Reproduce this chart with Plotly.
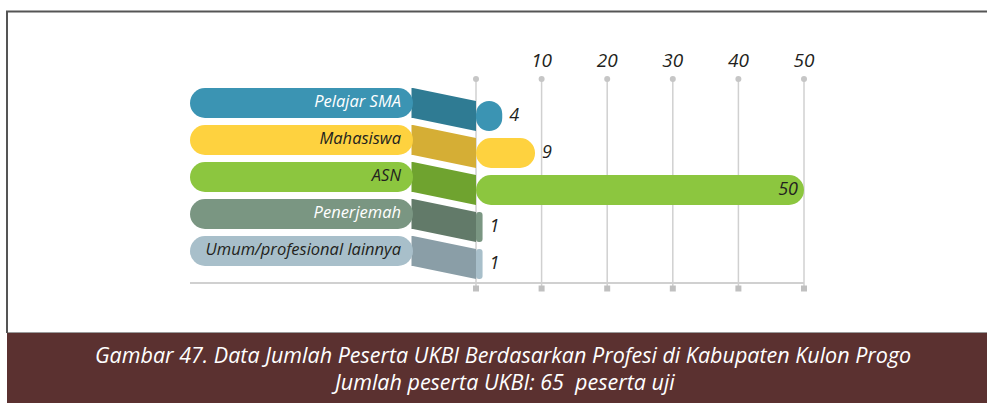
import plotly.graph_objects as go

# ---- data -----------------------------------------------------------------
categories = ["Pelajar SMA", "Mahasiswa", "ASN", "Penerjemah", "Umum/profesional lainnya"]
values = [4, 9, 50, 1, 1]
tick_values = [10, 20, 30, 40, 50]
tick_labels = ["10", "20", "30", "40", "50"]
caption_lines = [
    "Gambar 47. Data Jumlah Peserta UKBI Berdasarkan Profesi di Kabupaten Kulon Progo",
    "Jumlah peserta UKBI: 65  peserta uji",
]

# ---- styling --------------------------------------------------------------
bar_colors = ["#3b94b3", "#fed23f", "#8cc63f", "#7a9682", "#a8bfca"]
shade_colors = ["#2f7b93", "#d5ae35", "#6fa32f", "#627a69", "#8a9ea7"]
label_colors = ["#ffffff", "#231f20", "#231f20", "#ffffff", "#231f20"]
text_color = "#231f20"
grid_color = "#d0d0d0"
band_color = "#5b3130"
FONT = "Open Sans"

W, H = 987, 403
X0_PX = 476.0      # pixel column of value 0
PX_PER_UNIT = 6.56  # pixels per participant
ROW0_PX = 116.0    # pixel row of the first value bar centre
ROW_PX = 37.0      # pixel spacing between rows


def px_x(p):
    return (p - X0_PX) / PX_PER_UNIT


def px_y(p):
    return (p - ROW0_PX) / ROW_PX


bar_h = 30 / ROW_PX          # bar thickness in row units
lift = 13 / ROW_PX           # label pill sits higher than the value bar
pill_base = px_x(413)        # where the label pill meets the slanted joint
pill_left = px_x(190)        # rounded left end of the label pill
rows = list(range(len(categories)))
grid_values = [0] + tick_values

fig = go.Figure()

# label pills (rounded at the left end)
fig.add_trace(go.Bar(
    y=[r - lift for r in rows],
    x=[pill_left - pill_base] * len(rows),
    base=[pill_base] * len(rows),
    orientation="h",
    width=bar_h,
    marker=dict(color=bar_colors, cornerradius=15, line=dict(width=0)),
    hoverinfo="skip",
))

# value bars (rounded at the right end)
fig.add_trace(go.Bar(
    y=rows,
    x=values,
    base=[0] * len(rows),
    orientation="h",
    width=bar_h,
    marker=dict(color=bar_colors, cornerradius=15, line=dict(width=0)),
    hoverinfo="skip",
))

# category names inside the pills
for r, name, col in zip(rows, categories, label_colors):
    fig.add_trace(go.Scatter(
        x=[px_x(401)], y=[r - lift], mode="text", text=[name],
        textposition="middle left",
        textfont=dict(family=FONT, size=16.5, color=col, style="italic"),
        hoverinfo="skip",
    ))

# value labels
xmax = max(tick_values)
for r, v in zip(rows, values):
    inside = v >= 0.8 * xmax
    fig.add_trace(go.Scatter(
        x=[v - 6 / PX_PER_UNIT if inside else v + 7 / PX_PER_UNIT], y=[r],
        mode="text", text=[str(v)],
        textposition="middle left" if inside else "middle right",
        textfont=dict(family=FONT, size=18, color=text_color, style="italic"),
        hoverinfo="skip",
    ))

# axis tick labels along the top
fig.add_trace(go.Scatter(
    x=tick_values, y=[px_y(62)] * len(tick_values), mode="text", text=tick_labels,
    textposition="middle center",
    textfont=dict(family=FONT, size=19, color=text_color, style="italic"),
    hoverinfo="skip",
))

# grid end markers: dots on top, squares at the bottom
fig.add_trace(go.Scatter(
    x=grid_values, y=[px_y(79)] * len(grid_values), mode="markers",
    marker=dict(symbol="circle", size=6, color="#c6c6c6"), hoverinfo="skip",
))
fig.add_trace(go.Scatter(
    x=grid_values, y=[px_y(288.5)] * len(grid_values), mode="markers",
    marker=dict(symbol="square", size=6, color="#c0c0c0"), hoverinfo="skip",
))

shapes = []
# vertical grid lines
for g in grid_values:
    shapes.append(dict(type="line", xref="x", yref="y", x0=g, x1=g,
                       y0=px_y(79), y1=px_y(288), layer="below",
                       line=dict(color=grid_color, width=1.5)))
# baseline
shapes.append(dict(type="line", xref="x", yref="y", x0=pill_left, x1=xmax,
                   y0=px_y(283), y1=px_y(283), layer="below",
                   line=dict(color=grid_color, width=2)))
# slanted darker joints between pill and value bar (tucked under the pill)
tuck = 1.5 / PX_PER_UNIT
for r, col in zip(rows, shade_colors):
    top_l = r - lift - bar_h / 2
    top_r = r - bar_h / 2
    path = (f"M {pill_base - tuck},{top_l} L {pill_base},{top_l} L 0,{top_r} "
            f"L 0,{top_r + bar_h} L {pill_base},{top_l + bar_h} "
            f"L {pill_base - tuck},{top_l + bar_h} Z")
    shapes.append(dict(type="path", xref="x", yref="y", path=path,
                       fillcolor=col, line=dict(width=0), layer="below"))

# frame and caption band
shapes.append(dict(type="rect", xref="paper", yref="paper",
                   x0=7 / W, x1=1.0, y0=0, y1=1 - 333 / H,
                   fillcolor=band_color, line=dict(width=0), layer="above"))
shapes.append(dict(type="line", xref="paper", yref="paper",
                   x0=7 / W, x1=1.0, y0=1 - 332.5 / H, y1=1 - 332.5 / H,
                   line=dict(color="#9a9a9a", width=1)))
shapes.append(dict(type="line", xref="paper", yref="paper",
                   x0=7 / W, x1=7 / W, y0=1 - 333 / H, y1=1 - 11 / H,
                   line=dict(color="#555555", width=2)))
shapes.append(dict(type="line", xref="paper", yref="paper",
                   x0=6 / W, x1=1.0, y0=1 - 11.5 / H, y1=1 - 11.5 / H,
                   line=dict(color="#555555", width=2)))

annotations = []
for i, line in enumerate(caption_lines):
    annotations.append(dict(
        xref="paper", yref="paper", x=503 / W, y=1 - (354 + 27 * i) / H,
        text=line, showarrow=False, xanchor="center", yanchor="middle",
        font=dict(family=FONT, size=21.5, color="#ffffff", style="italic"),
    ))

fig.update_layout(
    width=W, height=H,
    margin=dict(l=0, r=0, t=0, b=0),
    paper_bgcolor="#ffffff", plot_bgcolor="#ffffff",
    showlegend=False,
    barmode="overlay",
    xaxis=dict(range=[px_x(0), px_x(W)], visible=False, fixedrange=True),
    yaxis=dict(range=[px_y(H), px_y(0)], visible=False, fixedrange=True),
    shapes=shapes,
    annotations=annotations,
)

fig.write_html("out.html", config={"displayModeBar": False})
